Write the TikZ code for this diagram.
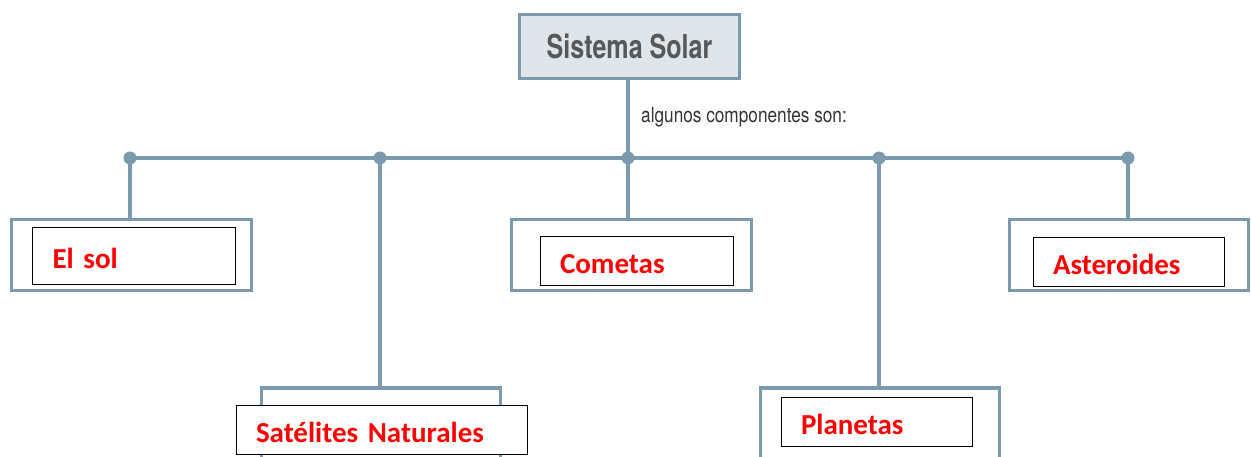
\documentclass[tikz,border=0pt]{standalone}
\usepackage{fontspec}
\setmainfont{Carlito}
\newfontfamily\headfont[FakeStretch=0.76]{TeX Gyre Heros}
\newfontfamily\notefont[FakeStretch=0.82]{TeX Gyre Heros}
\usepackage{tikz}

\definecolor{linegray}{HTML}{7B9AAE}
\definecolor{headfill}{HTML}{DEE6EC}
\definecolor{headtext}{HTML}{585858}

\tikzset{
	outerbox/.style={draw=linegray,line width=3.5pt,minimum width=240pt,inner sep=0pt},
	innerbox/.style={draw=black,line width=0.8pt,fill=white,text=red,align=left,
		font=\fontsize{29}{31}\selectfont\bfseries,text height=26pt,text depth=0pt,
		inner xsep=20pt,inner ysep=0pt,minimum height=#1},
	innerbox/.default=49pt,
	junction/.style={circle,fill=linegray,inner sep=0pt,minimum size=13pt},
	branch/.style={draw=linegray,line width=3.5pt}
}

\begin{document}
\begin{tikzpicture}[x=1pt,y=-1pt]
		\useasboundingbox (0,0) rectangle (1251,457);
		% head box
		\node[draw=linegray,line width=3.5pt,fill=headfill,minimum width=220pt,minimum height=64pt,
			text=headtext,font=\headfont\fontsize{33}{35}\selectfont\bfseries] (sistema) at (629.5,46.5) {Sistema Solar};
		\node[anchor=west,font=\notefont\fontsize{21}{23}\selectfont,text=black!80,inner sep=0pt] (nota) at (641,117) {algunos componentes son:};
		% junctions on the bar
		\node[junction] (jsol) at (130,158) {};
		\node[junction] (jsat) at (380,158) {};
		\node[junction] (jcom) at (628,158) {};
		\node[junction] (jpla) at (879,158) {};
		\node[junction] (jast) at (1128,158) {};
		\draw[branch] (jsol.center)--(jast.center);
		\draw[branch] (jcom.center |- sistema.south)--(jcom.center);
		% outer boxes
		\node[outerbox,minimum height=71pt] (sol) at (131.5,255) {};
		\node[outerbox,minimum height=71pt] (com) at (631.5,255) {};
		\node[outerbox,minimum height=71pt,minimum width=239pt] (ast) at (1129,255) {};
		\node[outerbox,minimum height=90pt,minimum width=239pt] (sat) at (381,433) {};
		\node[outerbox,minimum height=90pt,minimum width=239pt] (pla) at (880,433) {};
		% drops
		\draw[branch] (jsol.center)--(jsol.center |- sol.north);
		\draw[branch] (jsat.center)--(jsat.center |- sat.north);
		\draw[branch] (jcom.center)--(jcom.center |- com.north);
		\draw[branch] (jpla.center)--(jpla.center |- pla.north);
		\draw[branch] (jast.center)--(jast.center |- ast.north);
		% answer boxes
		\node[innerbox=57pt,text width=163pt] (solin) at (134,256) {El sol};
		\node[innerbox,text width=153pt] (comin) at (636.5,260.5) {Cometas};
		\node[innerbox,text width=151pt] (astin) at (1128.5,261.5) {Asteroides};
		\node[innerbox,text width=251pt] (satin) at (381.5,429.5) {Satélites Naturales};
		\node[innerbox,text width=151pt] (plain) at (876.5,421.5) {Planetas};
	\end{tikzpicture}
\end{document}
